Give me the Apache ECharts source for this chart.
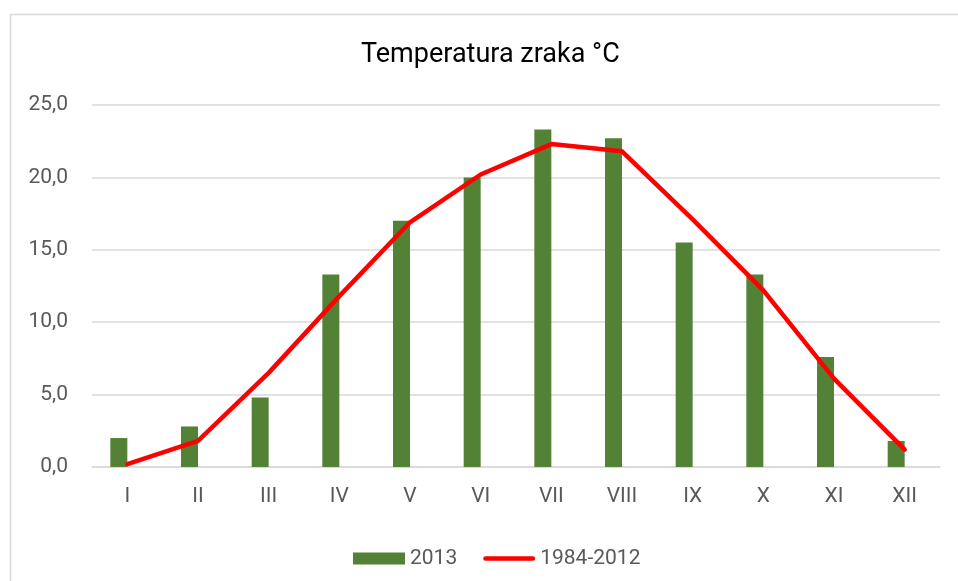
<!DOCTYPE html>
<html><head><meta charset="utf-8">
<script src="https://cdn.jsdelivr.net/npm/echarts@6/dist/echarts.min.js"></script>
<style>html,body{margin:0;padding:0;background:#fff}#c{width:958px;height:581px}</style>
</head><body><div id="c"></div>
<script>
const categories = ['I','II','III','IV','V','VI','VII','VIII','IX','X','XI','XII'];
const values2013 = [2.0, 2.8, 4.8, 13.3, 17.0, 20.0, 23.3, 22.7, 15.5, 13.3, 7.6, 1.8];
const values1984_2012 = [0.2, 1.8, 6.5, 11.8, 16.9, 20.2, 22.3, 21.8, 17.1, 12.2, 6.1, 1.2];
const yTicks = [0, 5, 10, 15, 20, 25];

const chart = echarts.init(document.getElementById('c'));
const font = 'Roboto, "Open Sans", sans-serif';
chart.setOption({
  animation: false,
  graphic: [{type:'rect', shape:{x:10.5,y:14.5,width:1000,height:600}, style:{fill:'none', stroke:'#d9d9d9', lineWidth:1.5}, silent:true}],
  title: {text:'Temperatura zraka °C', left:356, top:37, textStyle:{fontFamily:font, fontWeight:'normal', fontSize:27, color:'#000'}},
  grid: {left:92, right:18, top:105, bottom:114},
  legend: {top:543, left:348, itemGap:26, itemWidth:52, itemHeight:12, textStyle:{fontFamily:font, fontSize:21, color:'#595959'},
    data:[{name:'2013', icon:'rect'},{name:'1984-2012', icon:'path://M2.5,0 H52.5 A2.5,2.5 0 0 1 52.5,5 H2.5 A2.5,2.5 0 0 1 2.5,0 Z', itemStyle:{color:'#ff0000'}}]},
  xAxis: {type:'category', data:categories, axisTick:{show:false}, axisLine:{lineStyle:{color:'#d9d9d9', width:1.5}},
    axisLabel:{fontFamily:font, fontSize:21, color:'#595959', margin:19}},
  yAxis: {type:'value', min:0, max:25, interval:5, splitLine:{lineStyle:{color:'#d9d9d9', width:1.5}}, axisLine:{show:false}, axisTick:{show:false},
    axisLabel:{fontFamily:font, fontSize:21, color:'#595959', margin:24, formatter:v=>v.toFixed(1).replace('.',',')}},
  series: [
    {name:'2013', type:'bar', data:values2013, barWidth:17, barGap:'0%', itemStyle:{color:'#538135'}},
    {name:'_hidden', type:'bar', data:[], barWidth:17},
    {name:'1984-2012', type:'line', data:values1984_2012, symbol:'none', lineStyle:{color:'#ff0000', width:4.5, cap:'round'}, itemStyle:{color:'#ff0000'}}
  ]
});
</script></body></html>
